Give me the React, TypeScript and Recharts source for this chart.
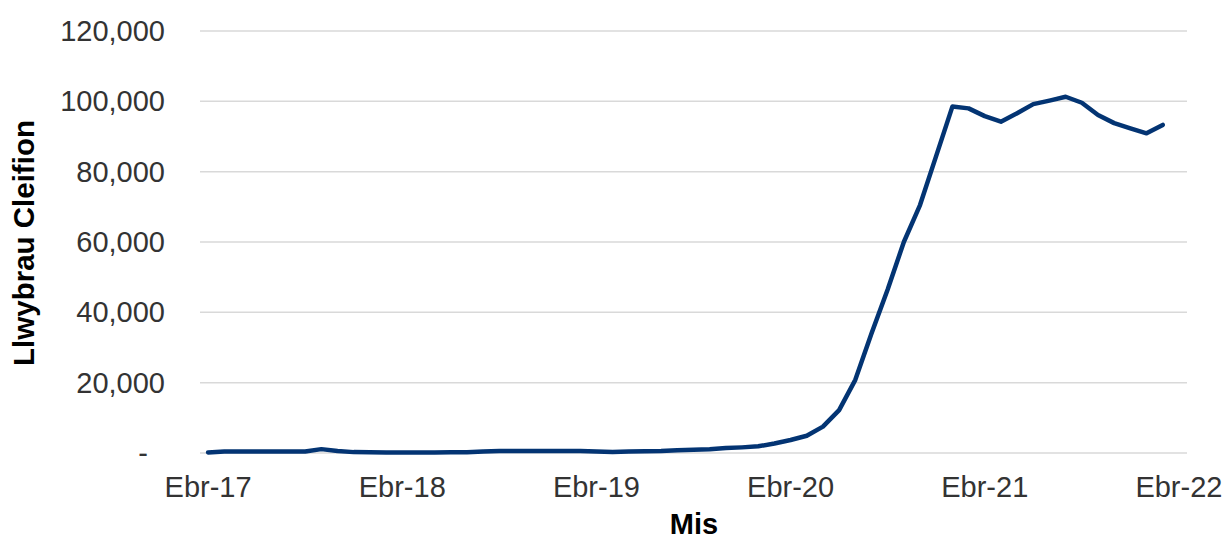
import React from 'react';
import { LineChart, Line, XAxis, YAxis, CartesianGrid } from 'recharts';

const months: string[] = [
  'Ebr-17', 'Mai-17', 'Meh-17', 'Gor-17', 'Aws-17', 'Med-17', 'Hyd-17', 'Tach-17', 'Rhag-17', 'Ion-18', 'Chw-18', 'Maw-18',
  'Ebr-18', 'Mai-18', 'Meh-18', 'Gor-18', 'Aws-18', 'Med-18', 'Hyd-18', 'Tach-18', 'Rhag-18', 'Ion-19', 'Chw-19', 'Maw-19',
  'Ebr-19', 'Mai-19', 'Meh-19', 'Gor-19', 'Aws-19', 'Med-19', 'Hyd-19', 'Tach-19', 'Rhag-19', 'Ion-20', 'Chw-20', 'Maw-20',
  'Ebr-20', 'Mai-20', 'Meh-20', 'Gor-20', 'Aws-20', 'Med-20', 'Hyd-20', 'Tach-20', 'Rhag-20', 'Ion-21', 'Chw-21', 'Maw-21',
  'Ebr-21', 'Mai-21', 'Meh-21', 'Gor-21', 'Aws-21', 'Med-21', 'Hyd-21', 'Tach-21', 'Rhag-21', 'Ion-22', 'Chw-22', 'Maw-22',
  'Ebr-22',
];

const pathways: (number | null)[] = [
  150, 400, 420, 420, 430, 430, 450, 1100, 550, 250, 180, 170,
  160, 160, 170, 180, 200, 450, 550, 580, 580, 600, 600, 550,
  450, 250, 450, 500, 550, 800, 950, 1050, 1400, 1600, 1900, 2700,
  3700, 4900, 7500, 12200, 20800, 34000, 46500, 60000, 70500, 84500, 98500, 98000,
  95800, 94200, 96600, 99200, 100200, 101300, 99600, 96100, 93800, 92300, 90900, 93300,
  null,
];

const yTicks: number[] = [0, 20000, 40000, 60000, 80000, 100000, 120000];

const yAxisTitle = 'Llwybrau Cleifion';
const xAxisTitle = 'Mis';

const data = months.map((m, i) => ({ month: m, value: pathways[i] }));

const FONT = '"Liberation Sans", Arial, sans-serif';
const TEXT = '#333333';

const fmt = (v: number) => (v === 0 ? '-' : v.toLocaleString('en-US'));

const YTick = (props: any) => {
  const { x, y, payload } = props;
  const v = payload.value as number;
  return (
    <text
      x={v === 0 ? x - 44 : x - 27}
      y={y}
      dy={10}
      textAnchor="end"
      fontFamily={FONT}
      fontSize={29}
      fill={TEXT}
    >
      {fmt(v)}
    </text>
  );
};

const XTick = (props: any) => {
  const { x, payload } = props;
  return (
    <text x={x} y={497} textAnchor="middle" fontFamily={FONT} fontSize={29} fill={TEXT}>
      {payload.value}
    </text>
  );
};

const YTitle = () => (
  <text
    transform="translate(34,243) rotate(-90)"
    x={0}
    y={0}
    textAnchor="middle"
    fontFamily={FONT}
    fontSize={29.5}
    fontWeight="bold"
    fill="#000"
  >
    {yAxisTitle}
  </text>
);

const XTitle = () => (
  <text x={694} y={534} textAnchor="middle" fontFamily={FONT} fontSize={29} fontWeight="bold" fill="#000">
    {xAxisTitle}
  </text>
);

export default function App() {
  return (
    <div style={{ position: 'absolute', left: 0, top: 0, width: 1225, height: 539, background: '#fff' }}>
      <LineChart
        width={1225}
        height={539}
        data={data}
        margin={{ top: 31, right: 38, bottom: 26, left: 0 }}
      >
        <CartesianGrid horizontal vertical={false} stroke="#d9d9d9" strokeWidth={1.5} />
        <XAxis
          dataKey="month"
          interval={11}
          axisLine={false}
          tickLine={false}
          height={60}
          padding={{ left: 8.09, right: 8.09 }}
          tick={<XTick />}
          label={{ content: () => <XTitle /> }}
        />
        <YAxis
          width={200}
          domain={[0, 120000]}
          ticks={yTicks}
          axisLine={false}
          tickLine={false}
          tick={<YTick />}
          label={{ content: () => <YTitle /> }}
        />
        <Line
          type="linear"
          dataKey="value"
          stroke="#033473"
          strokeWidth={4.5}
          dot={false}
          activeDot={false}
          strokeLinejoin="round"
          strokeLinecap="round"
          isAnimationActive={false}
        />
      </LineChart>
    </div>
  );
}
